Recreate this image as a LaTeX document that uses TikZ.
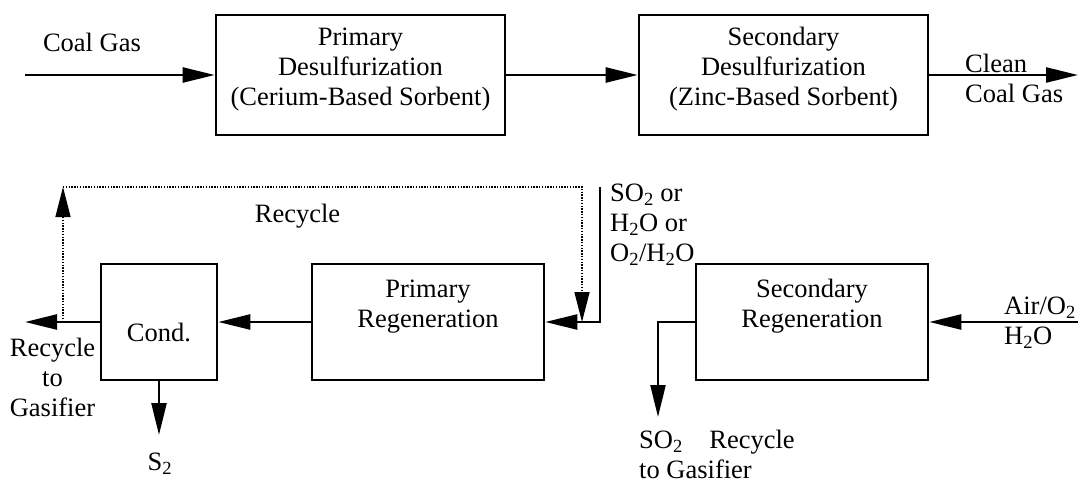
\documentclass[tikz,border=0pt]{standalone}
\usepackage{fontspec}
\setmainfont{Liberation Serif}
\usetikzlibrary{arrows.meta}

\begin{document}
\begin{tikzpicture}
[x=1pt,y=-1pt,
  every node/.style={inner sep=0pt,font=\fontsize{26.5}{30}\selectfont},
  boxStyle/.style={draw,line width=2.6pt},
  lineDecorate/.style={line width=2.4pt,-{Triangle[length=32pt,width=15pt]}},
  dotDecorate/.style={line width=1.4pt,dash pattern=on 1.4pt off 1.4pt,
    -{Triangle[length=30pt,width=15pt]}}]
\useasboundingbox (0,0) rectangle (1078,484);
% process units
\node[boxStyle,minimum width=289pt,minimum height=120pt] (pDesulf) at (360.5,75) {};
\node[boxStyle,minimum width=289pt,minimum height=120pt] (sDesulf) at (783.5,75) {};
\node[boxStyle,minimum width=116pt,minimum height=116pt] (cond) at (159,322) {};
\node[boxStyle,minimum width=232pt,minimum height=116pt] (pRegen) at (428,322) {};
\node[boxStyle,minimum width=232pt,minimum height=116pt] (sRegen) at (812,322) {};
\node[align=center] (pDesulfText) at (360.5,69.5)
  {Primary\\Desulfurization\\(Cerium-Based Sorbent)};
\node[align=center] (sDesulfText) at (783.5,69.5)
  {Secondary\\Desulfurization\\(Zinc-Based Sorbent)};
\node (condText) at (159,332.5) {Cond.};
\node[align=center] (pRegenText) at (428,306.5) {Primary\\Regeneration};
\node[align=center] (sRegenText) at (812,306.5) {Secondary\\Regeneration};
% stream labels
\node (coalGas) at (92,42) {Coal Gas};
\node[anchor=west,align=left] (cleanGas) at (965,78) {Clean\\Coal Gas};
\node (recycleTop) at (297.5,216) {Recycle};
\node[align=center] (recycleGas) at (52.5,377) {Recycle\\to\\Gasifier};
\node (sulfur) at (160,464) {S\textsubscript{2}};
\node[anchor=west,align=left] (regenGas) at (610,224.7)
  {SO\textsubscript{2} or\\H\textsubscript{2}O or\\O\textsubscript{2}/H\textsubscript{2}O};
\node[anchor=west,align=left] (airFeed) at (1004,323) {Air/O\textsubscript{2}\\H\textsubscript{2}O};
\node[anchor=west,align=left] (offGas) at (639,454.5) {SO\textsubscript{2}\quad Recycle\\to Gasifier};
% free ends
\coordinate (coalIn) at (25,75);
\coordinate (cleanOut) at (1078,75);
\coordinate (condOut) at (25,322);
\coordinate (sulfurOut) at (159,435);
\coordinate (regenIn) at (600,187);
\coordinate (airIn) at (1078,322);
\coordinate (offOut) at (658,417);
\coordinate (dotStart) at (63,322);
\coordinate (dotCorner) at (63,187);
\coordinate (dotEnd) at (582,187);
\path
\foreach \startNode/\endNode in {
  coalIn/pDesulf.west, pDesulf.east/sDesulf.west, sDesulf.east/cleanOut,
  pRegen.west/cond.east, cond.west/condOut, cond.south/sulfurOut,
  airIn/sRegen.east}
{
  (\startNode) edge[lineDecorate] (\endNode)
};
\draw[lineDecorate] (regenIn) |- (pRegen.east);
\draw[lineDecorate] (sRegen.west) -| (offOut);
\draw[dotDecorate] (dotStart) -- (dotCorner);
\draw[dotDecorate] (dotCorner) -- (dotEnd) -- (dotEnd |- pRegen.east);
\end{tikzpicture}
\end{document}
